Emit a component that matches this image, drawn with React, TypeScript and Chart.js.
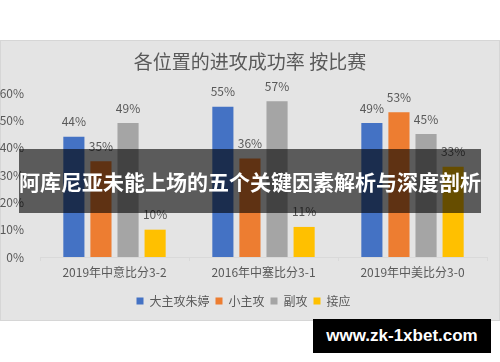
import React, { useEffect, useRef } from "react";
import { Chart, registerables } from "chart.js";

Chart.register(...registerables);

const titleText = "各位置的进攻成功率 按比赛";
const categories = ["2019年中意比分3-2", "2016年中塞比分3-1", "2019年中美比分3-0"];
const seriesNames = ["大主攻朱婷", "小主攻", "副攻", "接应"];
const seriesColors = ["#4472C4", "#ED7D31", "#A5A5A5", "#FFC000"];
const mainHitter = [44, 55, 49];
const secondHitter = [35, 36, 53];
const middleBlocker = [49, 57, 45];
const opposite = [10, 11, 33];
const yTicks = [0, 10, 20, 30, 40, 50, 60];
const bannerText = "阿库尼亚未能上场的五个关键因素解析与深度剖析";
const watermarkText = "www.zk-1xbet.com";

const FONT = "'Noto Sans CJK SC', 'Noto Sans', sans-serif";

const valueLabels = {
  id: "valueLabels",
  afterDatasetsDraw(chart: any) {
    const ctx = chart.ctx;
    ctx.save();
    ctx.font = `12px ${FONT}`;
    ctx.fillStyle = "#595959";
    ctx.textAlign = "center";
    ctx.textBaseline = "middle";
    chart.data.datasets.forEach((ds: any, i: number) => {
      const meta = chart.getDatasetMeta(i);
      meta.data.forEach((bar: any, j: number) => {
        ctx.fillText(`${ds.data[j]}%`, bar.x, bar.y - 15);
      });
    });
    ctx.restore();
  },
};

const centeredTitle = {
  id: "centeredTitle",
  afterDraw(chart: any) {
    const ctx = chart.ctx;
    ctx.save();
    ctx.font = `19px ${FONT}`;
    ctx.fillStyle = "#595959";
    ctx.textAlign = "center";
    ctx.textBaseline = "middle";
    ctx.fillText(titleText, chart.width / 2, 22);
    ctx.restore();
  },
};

export default function App() {
  const ref = useRef<HTMLCanvasElement>(null);
  useEffect(() => {
    if (!ref.current) return;
    const seriesData = [mainHitter, secondHitter, middleBlocker, opposite];
    const chart = new Chart(ref.current, {
      type: "bar",
      data: {
        labels: categories,
        datasets: seriesNames.map((name, i) => ({
          label: name,
          data: seriesData[i],
          backgroundColor: seriesColors[i],
          borderWidth: 0,
          barPercentage: 0.78,
          categoryPercentage: 0.727,
        })),
      },
      options: {
        responsive: false,
        animation: false,
        devicePixelRatio: 1,
        layout: { padding: { left: 0, right: 13, top: 53, bottom: 3 } },
        font: { family: FONT },
        plugins: {
          title: { display: false },
          legend: {
            position: "bottom",
            labels: {
              boxWidth: 7,
              boxHeight: 7,
              color: "#595959",
              font: { family: FONT, size: 12 },
              padding: 6,
            },
          },
          tooltip: { enabled: false },
        },
        scales: {
          y: {
            min: 0,
            max: 60,
            afterBuildTicks: (s: any) => {
              s.ticks = yTicks.map((v) => ({ value: v }));
            },
            afterFit: (s: any) => {
              s.width = 40;
            },
            ticks: {
              callback: (v: any) => `${v}%`,
              color: "#595959",
              font: { family: FONT, size: 12 },
              padding: 8,
            },
            grid: { display: false },
            border: { display: false },
          },
          x: {
            afterFit: (s: any) => {
              s.height = 32;
            },
            grid: {
              display: true,
              drawOnChartArea: false,
              drawTicks: true,
              tickLength: 4,
              color: "#d9d9d9",
              offset: true,
            },
            border: { display: true, color: "#d9d9d9" },
            ticks: {
              color: "#595959",
              font: { family: FONT, size: 12 },
              padding: 4,
            },
          },
        },
      },
      plugins: [valueLabels, centeredTitle],
    } as any);
    return () => chart.destroy();
  }, []);

  return (
    <div style={{ position: "absolute", left: 0, top: 0, width: 500, height: 362, background: "#ffffff", overflow: "hidden" }}>
      <div
        style={{
          position: "absolute",
          left: 0,
          top: 40,
          width: 500,
          height: 281,
          boxSizing: "border-box",
          background: "#e4e4e4",
          border: "1px solid #d6d6d6",
        }}
      />
      <canvas ref={ref} width={500} height={280} style={{ position: "absolute", left: 0, top: 40, width: 500, height: 280 }} />
      <div
        style={{
          position: "absolute",
          left: 19,
          top: 149,
          width: 462,
          height: 64,
          background: "rgba(0,0,0,0.6)",
          color: "#ffffff",
          fontFamily: FONT,
          fontWeight: "bold",
          fontSize: 21,
          lineHeight: "64px",
          textAlign: "center",
          whiteSpace: "nowrap",
        }}
      >
        {bannerText}
      </div>
      <div
        style={{
          position: "absolute",
          left: 313,
          top: 319,
          width: 178,
          height: 34,
          background: "#000000",
          color: "#ffffff",
          fontFamily: "'Liberation Sans', Arial, sans-serif",
          fontWeight: "bold",
          fontSize: 17,
          lineHeight: "34px",
          textAlign: "center",
          whiteSpace: "nowrap",
        }}
      >
        {watermarkText}
      </div>
    </div>
  );
}
